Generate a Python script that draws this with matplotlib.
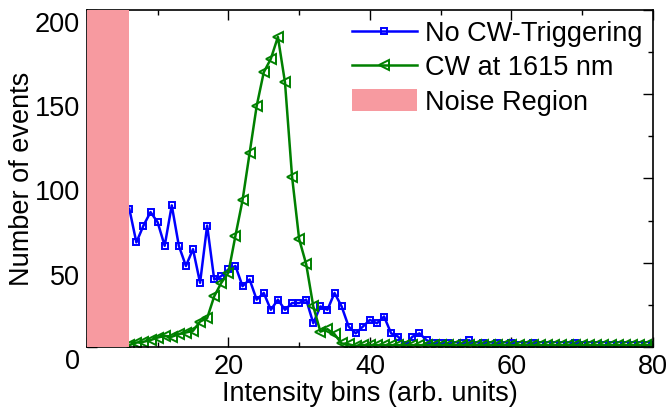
import matplotlib
matplotlib.use("Agg")
import matplotlib.pyplot as plt
import matplotlib.transforms as mtransforms
import numpy as np

plt.rcParams['font.family'] = ['Liberation Sans', 'DejaVu Sans']

# intensity bins (arb. units)
bins = np.arange(6, 81)

no_cw = [82, 62, 72, 80, 74, 60, 84, 60, 48, 58,
         38, 72, 40, 42, 46, 48, 36, 40, 28, 32,
         22, 28, 22, 26, 26, 28, 14, 24, 22, 32,
         24, 12, 8, 12, 16, 14, 18, 8, 6, 1,
         6, 8, 4, 2, 2, 2, 1, 2, 4, 1,
         2.5, 1, 2.5, 1, 2.5, 1, 1, 2.5, 1, 1,
         1, 1, 1, 2.5, 1, 1, 1, 1, 1, 1,
         1, 1, 1, 1, 1]

cw_1615 = [1, 2.5, 3, 4, 5.5, 6.5, 6, 7.5, 8.5, 9.5,
           15, 17, 30, 38, 44, 66, 87, 115, 143, 163,
           171, 184, 157, 101, 64, 49, 24, 9, 10.5, 7.5,
           2, 1.5, 0.5, 1, 1, 1, 1, 1, 1, 1,
           1, 1, 1, 1, 1, 1, 1, 1, 1, 1,
           1, 1, 1, 1, 1, 1, 1, 1, 1, 1,
           1, 1, 1, 1, 1, 1, 1, 1, 1, 1,
           1, 1, 1, 1, 1]

noise_lo, noise_hi = 0, 6

fs = 19.5

fig = plt.figure(figsize=(6.68, 4.09), dpi=100)
ax = fig.add_axes([0.130, 0.152, 0.8475, 0.8236])

ax.plot(bins, no_cw, color='#0000FF', lw=1.8, marker='s', ms=4.8,
        mfc='none', mec='#0000FF', mew=1.4, label='No CW-Triggering', zorder=2)
ax.plot(bins, cw_1615, color='#008000', lw=1.8, marker='<', ms=6.5,
        mfc='none', mec='#008000', mew=1.4, label='CW at 1615 nm', zorder=2.5)
ax.axvspan(noise_lo, noise_hi, color='#F79AA0', lw=0, label='Noise Region', zorder=3)

ax.set_xlim(0, 80)
ax.set_ylim(0, 200)
ax.set_xticks([0, 20, 40, 60, 80])
ax.set_xticklabels(['', '20', '40', '60', '80'])
ax.set_xticks([10, 30, 50, 70], minor=True)
ax.set_yticks([0, 50, 100, 150, 200])
ax.set_yticks([25, 75, 125, 175], minor=True)

ax.tick_params(which='both', direction='in', top=True, right=True,
               labelsize=fs, width=1)
ax.tick_params(which='major', length=7, pad=5)
ax.tick_params(which='minor', length=3.5)
for sp in ax.spines.values():
    sp.set_linewidth(1.2)

# y tick labels sit a little below their ticks in the original
shift = mtransforms.ScaledTranslation(0, -0.12, fig.dpi_scale_trans)
for lab in ax.get_yticklabels():
    lab.set_transform(lab.get_transform() + shift)

ax.set_xlabel('Intensity bins (arb. units)', fontsize=fs, labelpad=1)
ax.set_ylabel('Number of events', fontsize=fs, labelpad=0)

ax.legend(loc='upper right', frameon=False, fontsize=fs, numpoints=1,
          handlelength=2.4, handleheight=0.85, handletextpad=0.3,
          labelspacing=0.3, borderaxespad=0.2, borderpad=0.2)

fig.savefig('out.png', dpi=100)
